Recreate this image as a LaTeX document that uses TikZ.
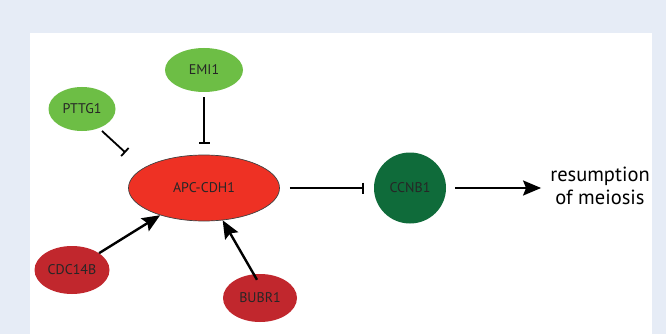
\documentclass[tikz,border=0pt]{standalone}
\usepackage{fontspec}
\setmainfont{PT Sans}
\usetikzlibrary{arrows.meta, shapes.geometric}
\definecolor{bgblue}{HTML}{E6ECF6}
\definecolor{lightgreen}{HTML}{6DBE45}
\definecolor{darkgreen}{HTML}{0F6B3A}
\definecolor{apcred}{HTML}{EE3124}
\definecolor{darkred}{HTML}{C1272D}
\begin{document}
\begin{tikzpicture}[
    x=1pt, y=-1pt,
    protein/.style={ellipse, inner sep=0pt, font=\fontsize{14}{15}\selectfont, text=black!85},
    activator/.style={protein, fill=darkred, minimum width=75pt, minimum height=48pt},
    inhibitor/.style={protein, fill=lightgreen, minimum width=70pt, minimum height=44pt},
    inhibit/.style={-{Bar[width=11pt, line width=1.8pt]}, line width=1.8pt, shorten >=2pt},
    arrow/.style={-{Stealth[length=18pt, width=15pt, inset=3pt]}, line width=2.4pt}
]
    % Background and white panel
    \fill[bgblue] (0,0) rectangle (666,334);
    \fill[white] (30,33) rectangle (652,334);
    \useasboundingbox (0,0) rectangle (666,334);

    % Central: APC-CDH1
    \node[protein, draw=black!75, line width=0.7pt, fill=apcred, minimum width=151pt, minimum height=66pt] (apc) at (204,188) {APC-CDH1};

    % Inhibitors (green)
    \node[inhibitor, minimum width=78pt] (emi) at (204,70) {EMI1};
    \node[inhibitor, minimum width=67pt] (pttg) at (82,109) {PTTG1};

    % Activators (red)
    \node[activator] (cdc) at (72,270) {CDC14B};
    \node[activator, minimum width=74pt] (bubr) at (260,298) {BUBR1};

    % Target
    \node[protein, fill=darkgreen, minimum width=72pt, minimum height=71pt] (ccnb) at (410,188) {CCNB1};

    % Outcome (cut off by the panel edge)
    \begin{scope}
        \clip (30,33) rectangle (649,334);
        \node[align=center, font=\fontsize{20.5}{23}\selectfont, inner sep=0pt] (res) at (600,186) {resumption\\of meiosis};
    \end{scope}

    % Inhibition edges
    \draw[inhibit] (emi.south) ++(0,5) -- ++(0,49);
    \draw[inhibit] (102,131) -- (127,154);
    \draw[inhibit] ([xshift=10pt]apc.east) -- ([xshift=-8pt]ccnb.west);

    % Activation edges
    \draw[arrow] (cdc) -- (apc);
    \draw[arrow] ([xshift=-3pt,yshift=-6pt]bubr.north) -- (apc);
    \draw[arrow] ([xshift=9pt]ccnb.east) -- ([xshift=-9pt]ccnb.east -| res.west);
\end{tikzpicture}
\end{document}
